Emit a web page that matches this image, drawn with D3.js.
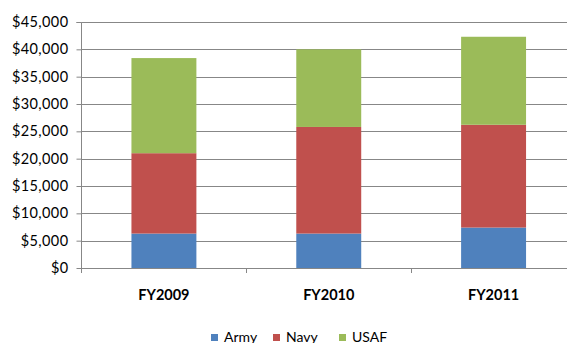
<!DOCTYPE html>
<html>
<head>
<meta charset="utf-8">
<script src="https://cdn.jsdelivr.net/npm/d3@7"></script>
<style>
  html, body { margin: 0; padding: 0; background: #fff; }
  svg { display: block; }
  text { font-family: Lato, "Open Sans", sans-serif; fill: #000; }
</style>
</head>
<body>
<div id="chart"></div>
<script>
// Budget by service and fiscal year (dollars)
const categories = ["FY2009", "FY2010", "FY2011"];
const seriesNames = ["Army", "Navy", "USAF"];
const army = [6300, 6300, 7400];
const navy = [14700, 19500, 18800];
const usaf = [17400, 14200, 16100];
const yTicks = [0, 5000, 10000, 15000, 20000, 25000, 30000, 35000, 40000, 45000];
const colors = ["#4F81BD", "#C0504D", "#9BBB59"];

const W = 567, H = 343;
const svg = d3.select("#chart").append("svg").attr("width", W).attr("height", H);

const plotLeft = 81.5, plotRight = 576, plotTop = 22, plotBottom = 268;

const x = d3.scaleBand().domain(categories).range([plotLeft, plotRight]).padding(0);
const y = d3.scaleLinear().domain([0, 45000]).range([plotBottom, plotTop]);
const color = d3.scaleOrdinal().domain(seriesNames).range(colors);

const rows = categories.map((c, i) => ({ cat: c, Army: army[i], Navy: navy[i], USAF: usaf[i] }));
const stacked = d3.stack().keys(seriesNames)(rows);

// Horizontal gridlines
svg.append("g")
  .selectAll("line")
  .data(yTicks.filter(t => t > 0))
  .join("line")
  .attr("x1", plotLeft).attr("x2", W)
  .attr("y1", d => Math.round(y(d)) + 0.5).attr("y2", d => Math.round(y(d)) + 0.5)
  .attr("stroke", "#878787").attr("stroke-width", 1);

// Stacked bars
const barW = x.bandwidth() * 0.394;
svg.append("g")
  .selectAll("g")
  .data(stacked)
  .join("g")
  .attr("fill", d => color(d.key))
  .selectAll("rect")
  .data(d => d)
  .join("rect")
  .attr("x", d => x(d.data.cat) + (x.bandwidth() - barW) / 2)
  .attr("width", barW)
  .attr("y", d => y(d[1]))
  .attr("height", d => y(d[0]) - y(d[1]));

// Y axis
const yAxis = d3.axisLeft(y).tickValues(yTicks).tickSize(5).tickPadding(8)
  .tickFormat(d => "$" + d3.format(",")(d));
const gy = svg.append("g").attr("transform", `translate(${plotLeft},0)`).call(yAxis);
gy.select(".domain").attr("stroke", "#878787").attr("d", `M-5,${plotTop + 0.5}H0V${plotBottom + 5}`);
gy.selectAll(".tick line").attr("stroke", "#878787");
gy.selectAll(".tick text").style("font-size", "14.5px").style("font-family", "Lato, sans-serif")
  .attr("fill", "#000").style("letter-spacing", "0.4px");

// X axis baseline with ticks at category boundaries
const xb = svg.append("g");
xb.append("line")
  .attr("x1", plotLeft).attr("x2", W)
  .attr("y1", plotBottom + 0.5).attr("y2", plotBottom + 0.5)
  .attr("stroke", "#878787");
xb.selectAll("line.tick")
  .data(categories.slice(1))
  .join("line")
  .attr("class", "tick")
  .attr("x1", d => Math.round(x(d)) + 0.5).attr("x2", d => Math.round(x(d)) + 0.5)
  .attr("y1", plotBottom).attr("y2", plotBottom + 5)
  .attr("stroke", "#878787");

// Category labels
svg.append("g")
  .selectAll("text")
  .data(categories)
  .join("text")
  .attr("x", d => x(d) + x.bandwidth() / 2)
  .attr("y", 300)
  .attr("text-anchor", "middle")
  .style("font-size", "14.5px")
  .style("font-weight", "bold")
  .text(d => d);

// Legend
const legendX = [211, 273, 339];
const lg = svg.append("g").selectAll("g").data(seriesNames).join("g")
  .attr("transform", (d, i) => `translate(${legendX[i]},0)`);
lg.append("rect").attr("x", 0).attr("y", 334).attr("width", 7).attr("height", 7)
  .attr("fill", d => color(d));
lg.append("text").attr("x", 13).attr("y", 341.5).style("font-size", "14px").text(d => d);
</script>
</body>
</html>
